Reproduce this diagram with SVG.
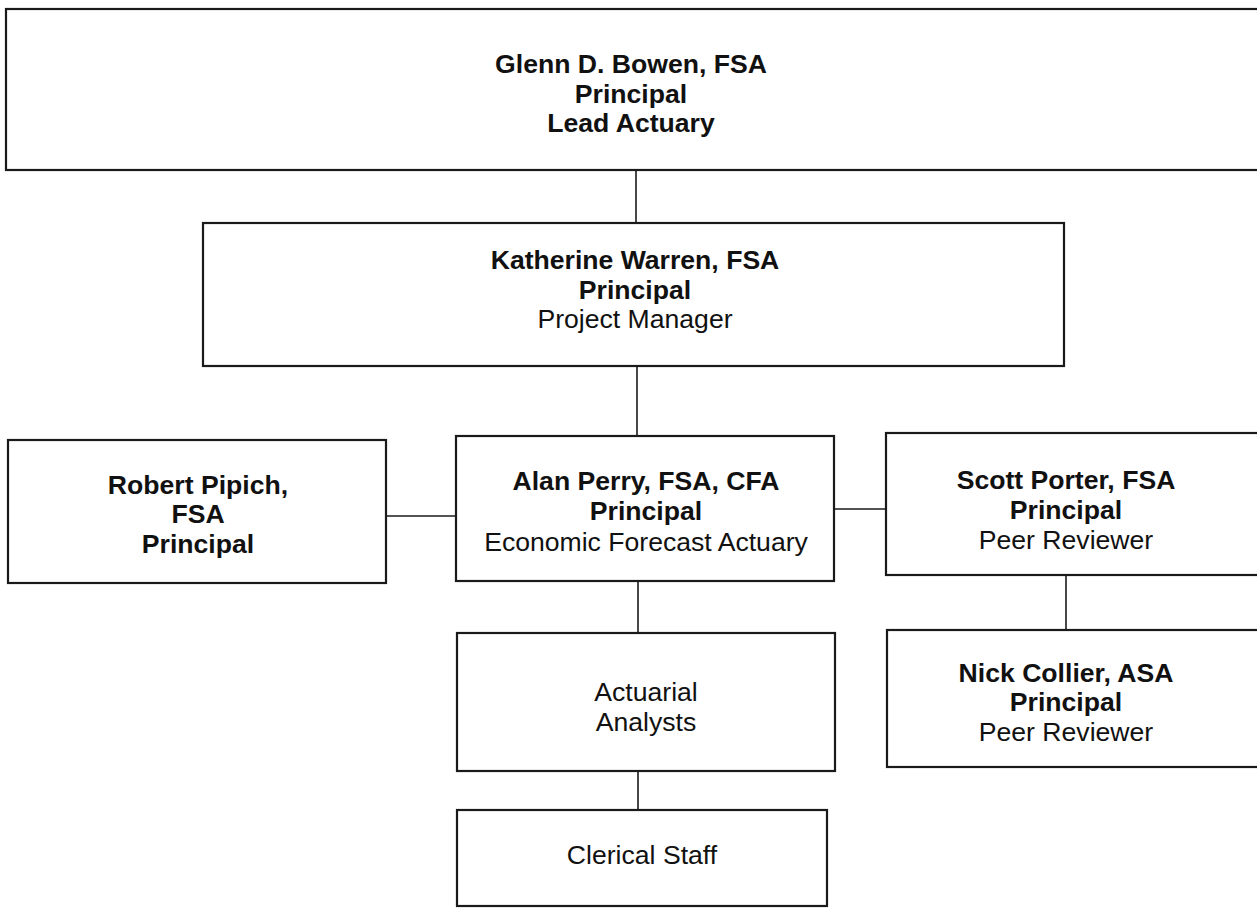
<svg xmlns="http://www.w3.org/2000/svg" width="1257" height="910" viewBox="0 0 1257 910">
<style>
.box{fill:#fff;stroke:#1a1a1a;stroke-width:2.2}
.conn line{stroke:#1a1a1a;stroke-width:1.6}
text{font-family:"Liberation Sans",Arial,sans-serif;font-size:26.6px;fill:#111;text-anchor:middle}
.b{font-weight:bold}
</style>
<rect width="1257" height="910" fill="#fff"/>
<g id="connectors" class="conn">
<line x1="636" y1="170" x2="636" y2="223"/>
<line x1="637" y1="366" x2="637" y2="436"/>
<line x1="386" y1="516" x2="456" y2="516"/>
<line x1="834" y1="509" x2="886" y2="509"/>
<line x1="638" y1="581" x2="638" y2="633"/>
<line x1="638" y1="771" x2="638" y2="810"/>
<line x1="1066" y1="575" x2="1066" y2="630"/>
</g>
<g id="bowen">
<rect class="box" x="6" y="9" width="1262" height="161"/>
<text x="631" y="73" class="b">Glenn D. Bowen, FSA</text>
<text x="631" y="103" class="b">Principal</text>
<text x="631" y="132" class="b">Lead Actuary</text>
</g>
<g id="warren">
<rect class="box" x="203" y="223" width="861" height="143"/>
<text x="635" y="269" class="b">Katherine Warren, FSA</text>
<text x="635" y="299" class="b">Principal</text>
<text x="635" y="328">Project Manager</text>
</g>
<g id="pipich">
<rect class="box" x="8" y="440" width="378" height="143"/>
<text x="198" y="494" class="b">Robert Pipich,</text>
<text x="198" y="523" class="b">FSA</text>
<text x="198" y="553" class="b">Principal</text>
</g>
<g id="perry">
<rect class="box" x="456" y="436" width="378" height="145"/>
<text x="646" y="490" class="b">Alan Perry, FSA, CFA</text>
<text x="646" y="520" class="b">Principal</text>
<text x="646" y="551">Economic Forecast Actuary</text>
</g>
<g id="porter">
<rect class="box" x="886" y="433" width="376" height="142"/>
<text x="1066" y="489" class="b">Scott Porter, FSA</text>
<text x="1066" y="519" class="b">Principal</text>
<text x="1066" y="549">Peer Reviewer</text>
</g>
<g id="collier">
<rect class="box" x="887" y="630" width="376" height="137"/>
<text x="1066" y="682" class="b">Nick Collier, ASA</text>
<text x="1066" y="711" class="b">Principal</text>
<text x="1066" y="741">Peer Reviewer</text>
</g>
<g id="analysts">
<rect class="box" x="457" y="633" width="378" height="138"/>
<text x="646" y="701">Actuarial</text>
<text x="646" y="731">Analysts</text>
</g>
<g id="clerical">
<rect class="box" x="457" y="810" width="370" height="96"/>
<text x="642" y="864">Clerical Staff</text>
</g>
</svg>
